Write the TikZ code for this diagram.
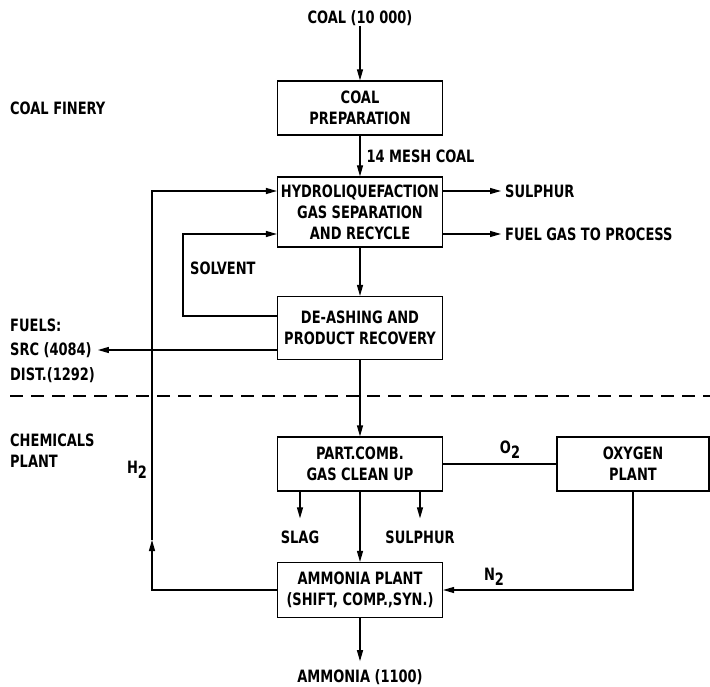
\documentclass[tikz,border=0pt]{standalone}
\usepackage{fontspec}
\setmainfont[FakeStretch=0.85]{DejaVu Sans Condensed}
\usetikzlibrary{arrows.meta, positioning}
\tikzset{
	unitbox/.style  ={rectangle, draw=black, line width=1.2pt, minimum width=165pt, align=center, inner sep=2pt},
	flowarrow/.style={-{Triangle[length=11pt,width=6pt]}, line width=1.2pt},
	flowline/.style ={line width=1.2pt},
	lbl/.style      ={inner sep=0pt, align=left},
}
\newcommand{\lowtwo}{\raisebox{-0.55ex}{2}}

\begin{document}
\begin{tikzpicture}[x=1pt, y=-1pt, font=\fontsize{17}{21}\selectfont\bfseries]
	\useasboundingbox (0,0) rectangle (710,687);
	% main process units
	\node[lbl] (coal) at (360,18) {COAL (10 000)};
	\node[unitbox, minimum height=54pt] (prep) at (360,108) {COAL\\PREPARATION};
	\node[unitbox, minimum height=70pt] (hydro) at (360,212) {HYDROLIQUEFACTION\\GAS SEPARATION\\AND RECYCLE};
	\node[unitbox, minimum height=63pt] (deash) at (360,328) {DE-ASHING AND\\PRODUCT RECOVERY};
	\node[unitbox, minimum height=54pt] (pcomb) at (360,464) {PART.COMB.\\GAS CLEAN UP};
	\node[unitbox, minimum height=54pt, minimum width=152pt] (oxy) at (633,464) {OXYGEN\\PLANT};
	\node[unitbox, minimum height=55pt] (amm) at (360,590) {AMMONIA PLANT\\(SHIFT, COMP.,SYN.)};
	\node[lbl] (ammout) at (360,677) {AMMONIA (1100)};
	% side labels
	\node[lbl, anchor=west] (finery) at (10,108) {COAL FINERY};
	\node[lbl, anchor=west] (sulph) at (505,191) {SULPHUR};
	\node[lbl, anchor=west] (fgas) at (505,234) {FUEL GAS TO PROCESS};
	\node[lbl, anchor=west] (solv) at (190,268) {SOLVENT};
	\node[lbl, anchor=west] (fuels) at (10,325) {FUELS:};
	\node[lbl, anchor=west] (src) at (10,350) {SRC (4084)};
	\node[lbl, anchor=west] (dist) at (10,375) {DIST.(1292)};
	\node[lbl, anchor=west] (chem) at (10,451) {CHEMICALS\\PLANT};
	\node[lbl] (htwo) at (137,470) {H\lowtwo};
	\node[lbl] (otwo) at (510,450) {O\lowtwo};
	\node[lbl] (ntwo) at (494,577) {N\lowtwo};
	\node[lbl] (slag) at (300,537) {SLAG};
	\node[lbl] (sulphb) at (420,537) {SULPHUR};
	\coordinate (sloop) at (183,316);
	\coordinate (hmid) at (152,540);
	% flows
	\draw[flowarrow] (coal) -- (prep);
	\draw[flowarrow] (prep) -- node[right=6pt, lbl] {14 MESH COAL} (hydro);
	\draw[flowarrow, shorten >=4pt] (hydro.east |- sulph) -- (sulph.west);
	\draw[flowarrow, shorten >=4pt] (hydro.east |- fgas) -- (fgas.west);
	\draw[flowarrow] (hydro) -- (deash);
	\draw[flowarrow] (deash.west |- sloop) -- (sloop) |- (hydro.west |- fgas);
	\draw[flowarrow, shorten >=6pt] (deash.west |- src) -- (src.east);
	\draw[dash pattern=on 13pt off 8pt, line width=1.2pt] (10,396) -- (710,396);
	\draw[flowarrow] (deash) -- (pcomb);
	\draw[flowline] (pcomb.east) -- (oxy.west);
	\draw[flowarrow, shorten >=12pt] (pcomb.south -| slag) -- (slag.north);
	\draw[flowarrow, shorten >=12pt] (pcomb.south -| sulphb) -- (sulphb.north);
	\draw[flowarrow] (pcomb) -- (amm);
	\draw[flowarrow] (oxy.south) |- (amm.east);
	\draw[flowarrow] (amm.west) -| (hmid);
	\draw[flowarrow] (hmid) |- (hydro.west |- sulph);
	\draw[flowarrow, shorten >=8pt] (amm) -- (ammout);
\end{tikzpicture}
\end{document}
